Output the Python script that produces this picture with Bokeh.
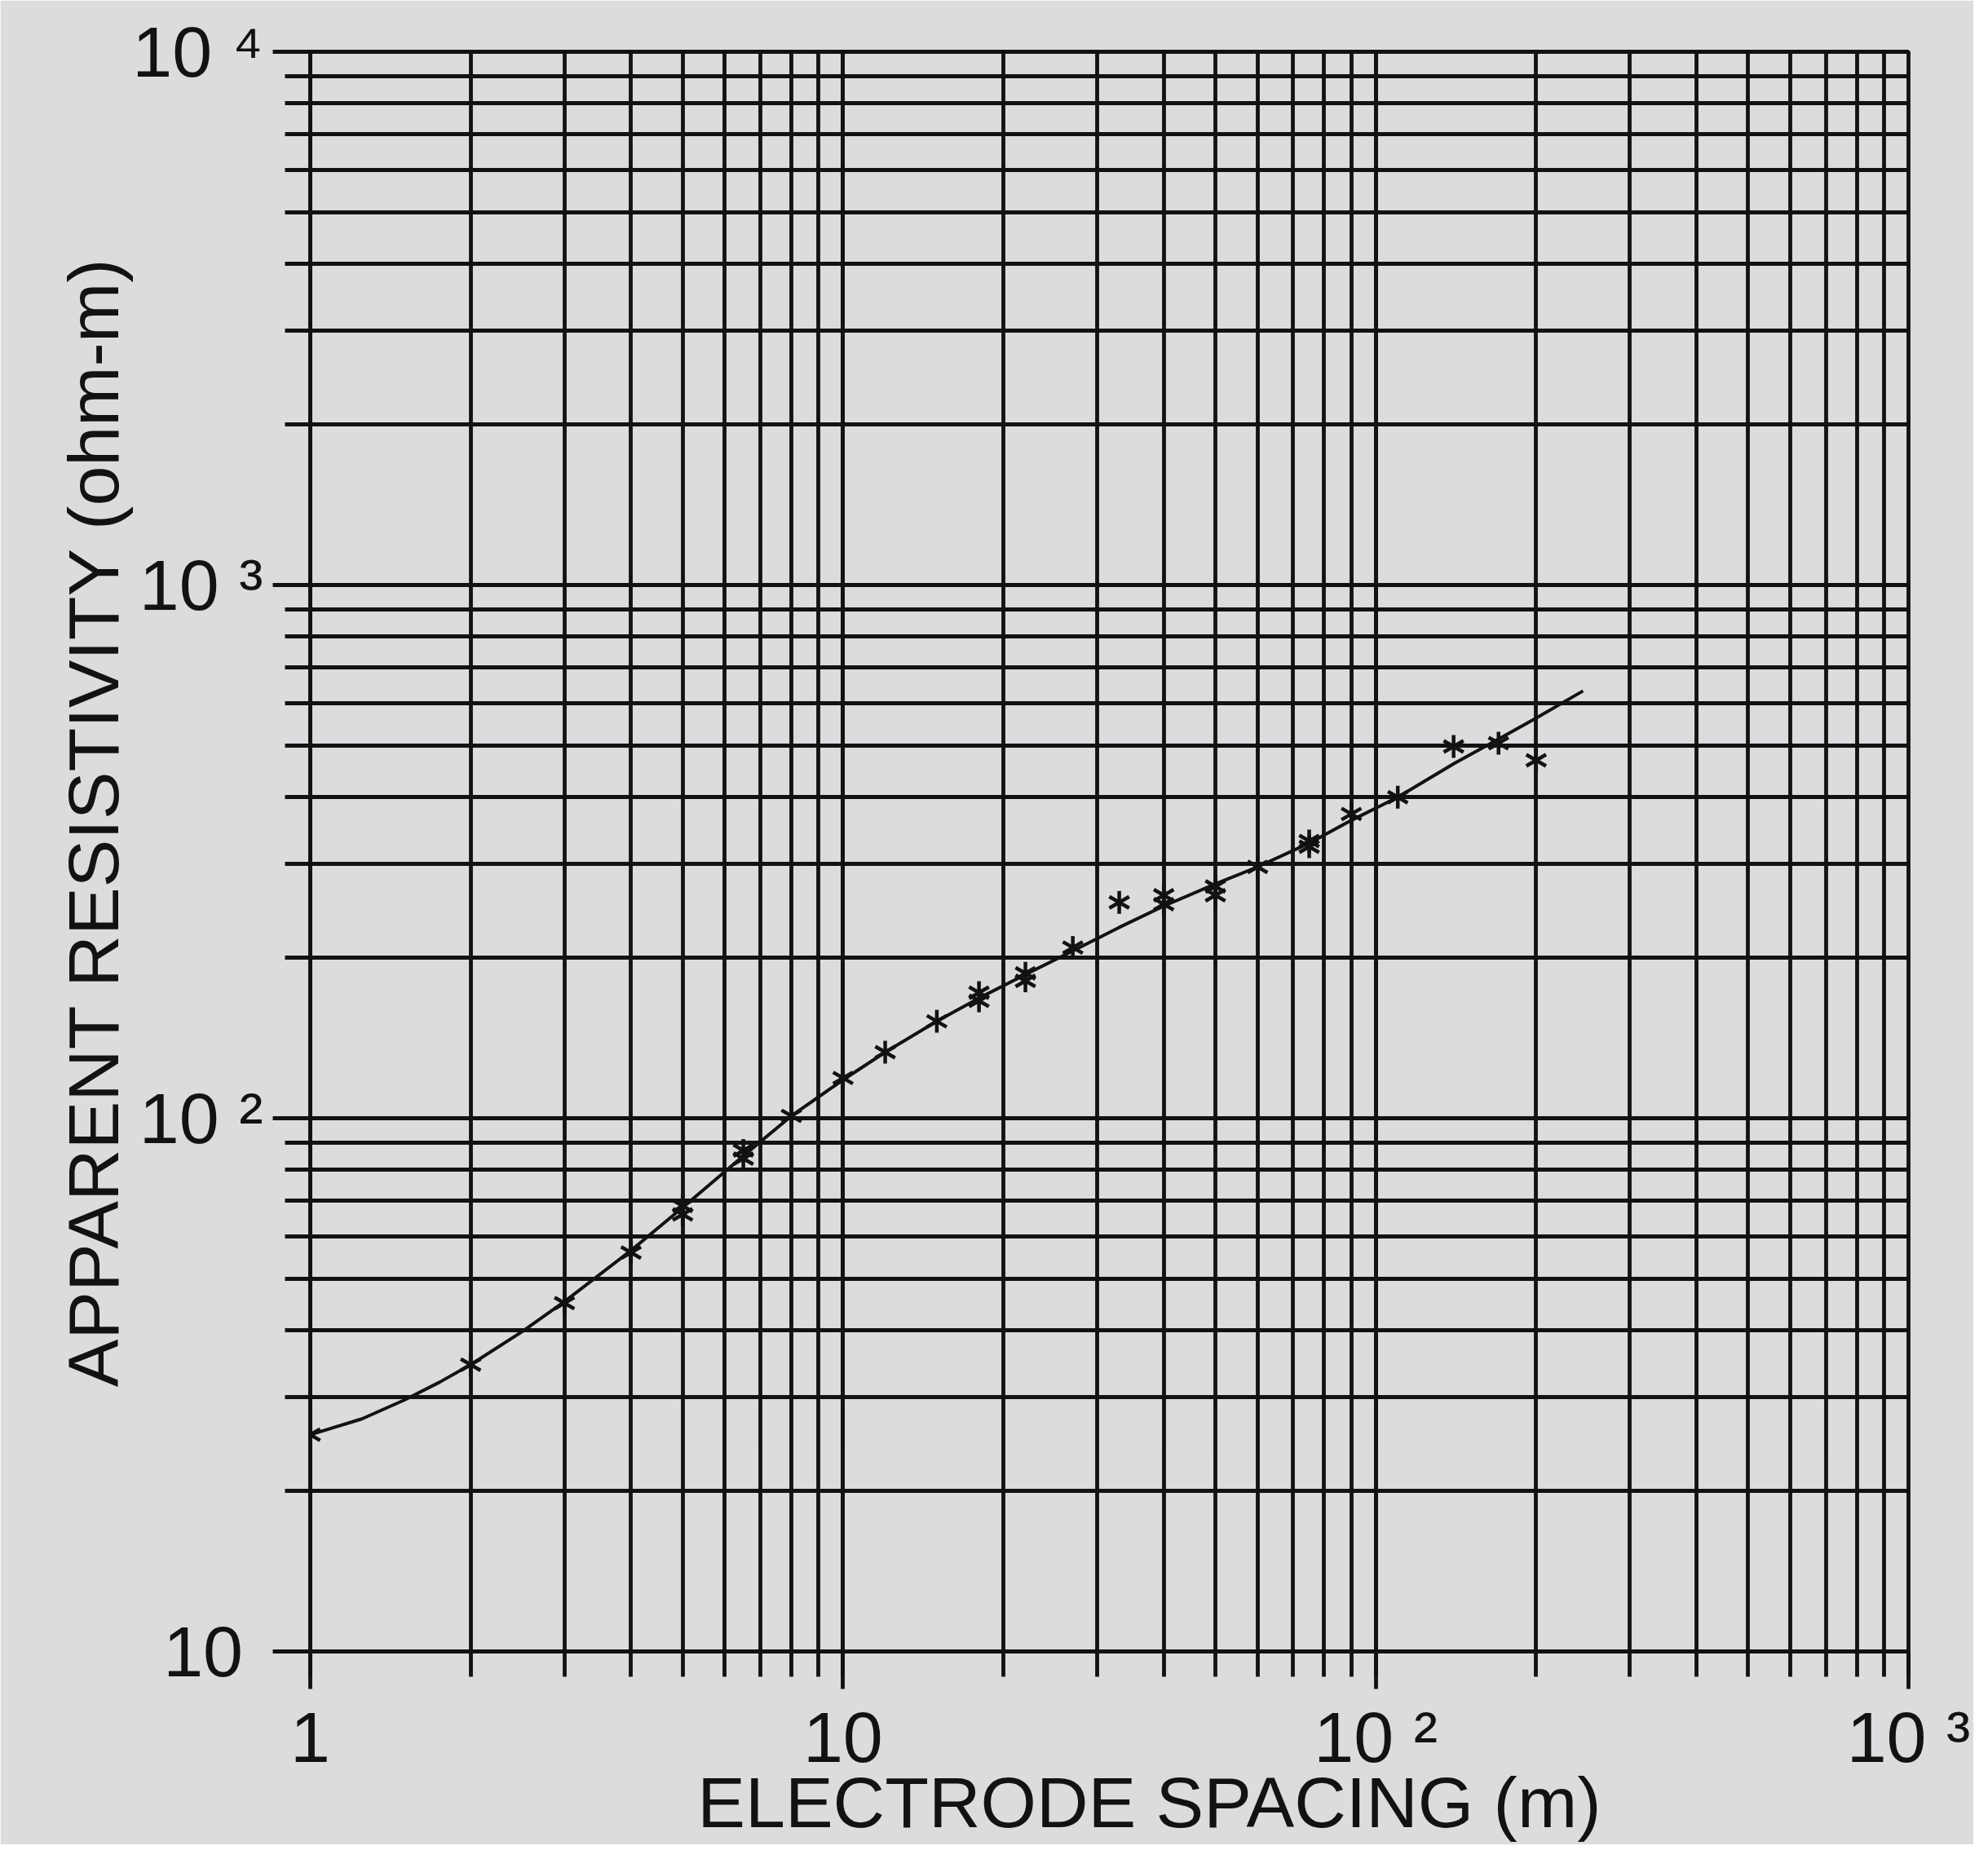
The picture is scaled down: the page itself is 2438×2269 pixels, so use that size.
import math
from bokeh.plotting import figure
from bokeh.models import Range1d
from bokeh.embed import file_html
from bokeh.resources import INLINE

# ---- data ----
spacing = [1, 2, 3, 4, 5, 5, 6.5, 6.5, 8, 10, 12, 15, 18, 18, 22, 22, 27, 33,
           40, 40, 50, 50, 60, 75, 75, 90, 110, 140, 170, 200]
resistivity = [25.5, 34.5, 45, 56, 66, 68.5, 84, 87, 101, 119, 133, 152, 166, 172,
               181, 187, 209, 254, 252, 262, 262, 272, 296, 323, 331, 372, 400,
               498, 505, 469]

model_spacing = [1, 1.25, 1.5, 1.75, 2, 2.5, 3, 4, 5, 6.5, 8, 10, 12, 15, 18, 22,
                 27, 33, 40, 50, 60, 75, 90, 110, 140, 170, 200, 245]
model_resistivity = [25.5, 27.3, 29.6, 32, 34.5, 39.8, 45.3, 56.5, 68, 85, 101, 118,
                     133, 152, 168, 186, 206, 228, 250, 275, 296, 328, 362, 400,
                     462, 514, 563, 633]

NB = "\u00a0"
x_ticks = [1, 10, 100, 1000]
x_tick_labels = ["1", "10", "10" + NB + "\u00b2", "10" + NB + "\u00b3"]
y_ticks = [10, 100, 1000, 10000]
y_tick_labels = ["10" + NB, "10" + NB + "\u00b2", "10" + NB + "\u00b3", "10" + NB + "\u2074"]

x_title = "ELECTRODE SPACING (m)"
y_title = "APPARENT RESISTIVITY (ohm-m)"

INK = "#121212"
PAPER = "#dcdcdf"
FONT = "Liberation Sans"
LW = 4.8

x0, x1 = 1, 1000
y0, y1 = 10, 10000

p = figure(width=2420, height=2262, x_axis_type="log", y_axis_type="log",
           x_range=Range1d(x0, x1), y_range=Range1d(y0, y1),
           output_backend="svg", toolbar_location=None,
           min_border_left=380, min_border_right=80,
           min_border_top=63, min_border_bottom=234,
           background_fill_color=PAPER, border_fill_color=PAPER)

p.outline_line_color = INK
p.outline_line_width = LW

for ax, ticks, labels in ((p.xaxis[0], x_ticks, x_tick_labels),
                          (p.yaxis[0], y_ticks, y_tick_labels)):
    ax.major_label_overrides = {t: s for t, s in zip(ticks, labels)}
    ax.major_label_text_font = FONT
    ax.major_label_text_font_size = "88px"
    ax.major_label_text_color = INK
    ax.axis_line_color = INK
    ax.axis_line_width = LW
    ax.major_tick_line_color = INK
    ax.minor_tick_line_color = INK
    ax.major_tick_line_width = LW
    ax.minor_tick_line_width = LW
    ax.major_tick_in = 0
    ax.minor_tick_in = 0
    ax.major_tick_out = 46
    ax.minor_tick_out = 31
    ax.ticker.num_minor_ticks = 10
    ax.axis_label_text_font = FONT
    ax.axis_label_text_font_size = "88px"
    ax.axis_label_text_font_style = "normal"
    ax.axis_label_text_color = INK

p.xaxis[0].major_label_standoff = 9
p.yaxis[0].major_label_standoff = 12
p.xaxis[0].axis_label = NB * 4 + x_title
p.xaxis[0].axis_label_standoff = -22
p.yaxis[0].axis_label = NB * 3 + y_title
p.yaxis[0].axis_label_standoff = -5

for g in p.grid:
    g.grid_line_color = INK
    g.grid_line_width = LW
    g.grid_line_alpha = 1
    g.minor_grid_line_color = INK
    g.minor_grid_line_width = LW
    g.minor_grid_line_alpha = 1

# model curve
p.line(model_spacing, model_resistivity, line_color=INK, line_width=4)

# six-armed asterisk markers
for ang in (math.pi / 2, math.pi / 6, -math.pi / 6):
    p.scatter(spacing, resistivity, marker="dash", size=28, angle=ang,
              line_color=INK, line_width=4.5)

open("out.html", "w").write(file_html(p, INLINE))
